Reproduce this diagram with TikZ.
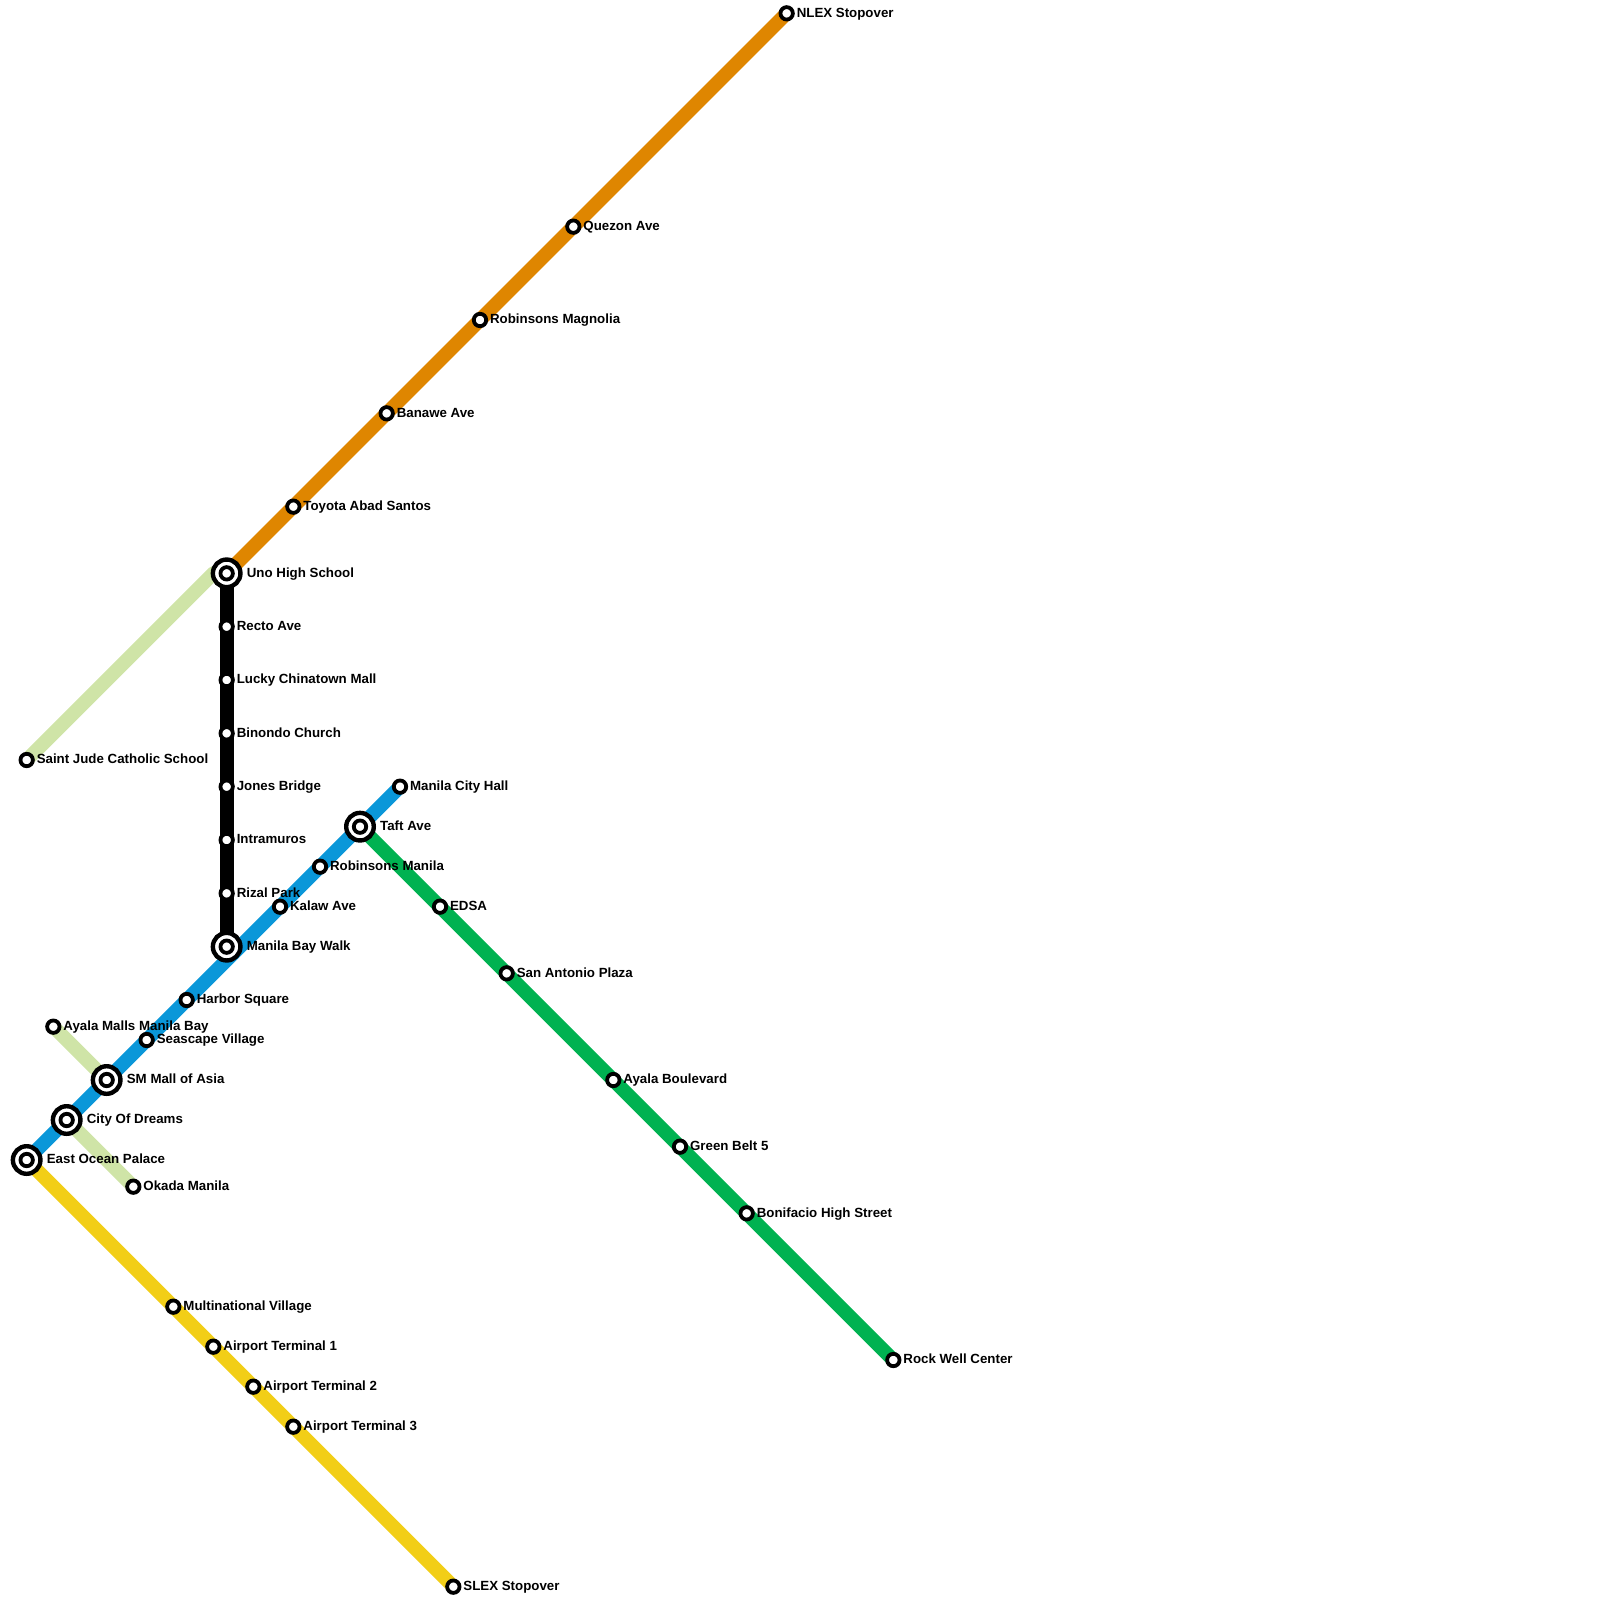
\documentclass[tikz,border=0pt]{standalone}
\usepackage{fontspec}
\setmainfont{Liberation Sans}
\definecolor{cOrange}{HTML}{DF8600}
\definecolor{cBlue}{HTML}{0A97D9}
\definecolor{cYellow}{HTML}{F2CE17}
\definecolor{cGreen}{HTML}{00B251}
\definecolor{cLight}{HTML}{CFE4A7}
\pgfdeclarelayer{linelayer}
\pgfdeclarelayer{textlayer}
\pgfsetlayers{linelayer,main,textlayer}
\tikzset{
  metro/.style={line width=14pt,line join=round},
  stnode/.style={circle,draw=black,fill=white,line width=3.8pt,inner sep=0pt,minimum size=12.4pt,outer sep=0pt},
  xnode/.style={circle,draw=black,fill=white,line width=4.4pt,inner sep=0pt,minimum size=27.6pt,outer sep=0pt},
  stlabel/.style={anchor=base west,inner sep=0pt,outer sep=0pt,font=\bfseries\fontsize{13.3pt}{15pt}\selectfont,text=black}
}
\newcommand{\stn}[4]{%
  \node[stnode] (#1) at (#2,#3) {};
  \begin{pgfonlayer}{textlayer}
    \node[stlabel,xshift=10.1pt,yshift=-3.8pt] (#1-t) at (#2,#3) {#4};
  \end{pgfonlayer}}
\newcommand{\xch}[4]{%
  \node[xnode] (#1) at (#2,#3) {};
  \node[stnode] (#1-i) at (#2,#3) {};
  \begin{pgfonlayer}{textlayer}
    \node[stlabel,xshift=20.2pt,yshift=-3.8pt] (#1-t) at (#2,#3) {#4};
  \end{pgfonlayer}}
\begin{document}
\begin{tikzpicture}[x=13.3333pt,y=-13.3333pt]
\useasboundingbox (0,0) rectangle (120,120);
% orange
\xch{uno}{17}{43}{Uno High School}
\stn{toyota}{22}{38}{Toyota Abad Santos}
\stn{banawe}{29}{31}{Banawe Ave}
\stn{magnolia}{36}{24}{Robinsons Magnolia}
\stn{quezon}{43}{17}{Quezon Ave}
\stn{nlex}{59}{1}{NLEX Stopover}
% black
\stn{recto}{17}{47}{Recto Ave}
\stn{lucky}{17}{51}{Lucky Chinatown Mall}
\stn{binondo}{17}{55}{Binondo Church}
\stn{jones}{17}{59}{Jones Bridge}
\stn{intra}{17}{63}{Intramuros}
\stn{rizal}{17}{67}{Rizal Park}
\xch{bay}{17}{71}{Manila Bay Walk}
% blue
\xch{eop}{2}{87}{East Ocean Palace}
\xch{cod}{5}{84}{City Of Dreams}
\xch{sm}{8}{81}{SM Mall of Asia}
\stn{sea}{11}{78}{Seascape Village}
\stn{har}{14}{75}{Harbor Square}
\stn{kal}{21}{68}{Kalaw Ave}
\stn{robm}{24}{65}{Robinsons Manila}
\xch{taft}{27}{62}{Taft Ave}
\stn{mch}{30}{59}{Manila City Hall}
% light
\stn{jude}{2}{57}{Saint Jude Catholic School}
\stn{ayala}{4}{77}{Ayala Malls Manila Bay}
\stn{okada}{10}{89}{Okada Manila}
% yellow
\stn{multi}{13}{98}{Multinational Village}
\stn{t1}{16}{101}{Airport Terminal 1}
\stn{t2}{19}{104}{Airport Terminal 2}
\stn{t3}{22}{107}{Airport Terminal 3}
\stn{slex}{34}{119}{SLEX Stopover}
% green
\stn{edsa}{33}{68}{EDSA}
\stn{anton}{38}{73}{San Antonio Plaza}
\stn{ayb}{46}{81}{Ayala Boulevard}
\stn{belt}{51}{86}{Green Belt 5}
\stn{boni}{56}{91}{Bonifacio High Street}
\stn{rock}{67}{102}{Rock Well Center}
\coordinate (judebend) at (16,43);
\begin{pgfonlayer}{linelayer}
\draw[metro,cLight] (jude.center) -- (judebend) -- (uno.center);
\draw[metro,cLight] (ayala.center) -- (sm.center);
\draw[metro,cLight] (cod.center) -- (okada.center);
\draw[metro,cOrange] (uno.center) -- (toyota.center) -- (banawe.center) -- (magnolia.center) -- (quezon.center) -- (nlex.center);
\draw[metro,cYellow] (eop.center) -- (multi.center) -- (t1.center) -- (t2.center) -- (t3.center) -- (slex.center);
\draw[metro,cGreen] (taft.center) -- (edsa.center) -- (anton.center) -- (ayb.center) -- (belt.center) -- (boni.center) -- (rock.center);
\draw[metro,cBlue] (eop.center) -- (cod.center) -- (sm.center) -- (sea.center) -- (har.center) -- (kal.center) -- (robm.center) -- (taft.center) -- (mch.center);
\draw[metro,black] (uno.center) -- (recto.center) -- (lucky.center) -- (binondo.center) -- (jones.center) -- (intra.center) -- (rizal.center) -- (bay.center);
\end{pgfonlayer}
\end{tikzpicture}
\end{document}
